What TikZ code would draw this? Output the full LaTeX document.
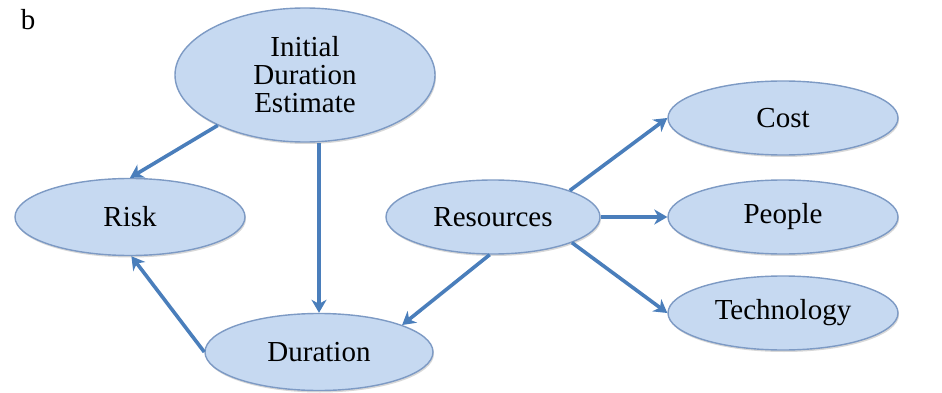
\documentclass[tikz,border=0pt]{standalone}
\usepackage{fontspec}
\setmainfont{Liberation Serif}
\usetikzlibrary{arrows.meta,shadows,shapes.geometric}
\definecolor{bubblefill}{HTML}{C6D9F1}
\definecolor{bubbleline}{HTML}{7D9AC4}
\definecolor{arrowblue}{HTML}{4A7EBB}
\tikzset{
  bubble/.style={ellipse, draw=bubbleline, line width=1.4pt, fill=bubblefill,
    inner sep=0pt, font=\fontsize{29}{28}\selectfont, align=center,
    drop shadow={shadow xshift=1pt, shadow yshift=-2pt, opacity=0.25, fill=black!60}},
  link/.style={draw=arrowblue, line width=3.6pt,
    -{Stealth[length=13pt,width=15pt,inset=4pt]}, shorten >=0pt},
}
\begin{document}
\begin{tikzpicture}[x=1pt,y=-1pt]
  \useasboundingbox[fill=white] (0,0) rectangle (942,393);

  \node[font=\fontsize{29}{28}\selectfont] (panel) at (28,20) {b};

  % ellipses
  \node[bubble, minimum width=260pt, minimum height=134pt] (ide) at (305,75)
    {Initial\\Duration\\Estimate};
  \node[bubble, minimum width=230pt, minimum height=77pt] (risk) at (130,217) {Risk};
  \node[bubble, minimum width=228pt, minimum height=77pt] (dur) at (319,352) {Duration};
  \node[bubble, minimum width=214pt, minimum height=74pt] (res) at (493,217) {Resources};
  \node[bubble, minimum width=230pt, minimum height=74pt] (cost) at (783,118) {Cost};
  \node[bubble, minimum width=230pt, minimum height=74pt] (people) at (783,217) {People};
  \node[bubble, minimum width=230pt, minimum height=74pt] (tech) at (783,313) {Technology};

  % connectors
  \draw[link] (ide.210) -- (risk.north);
  \draw[link] (ide.south -| dur.north) -- (dur.north);
  \draw[link] (dur.west) -- (risk.272);
  \draw[link] (res.265) -- (dur.18);
  \draw[link] (res.19) -- (cost.west);
  \draw[link] (res.east) -- (people.west);
  \draw[link] (res.342) -- (tech.west);
\end{tikzpicture}
\end{document}
